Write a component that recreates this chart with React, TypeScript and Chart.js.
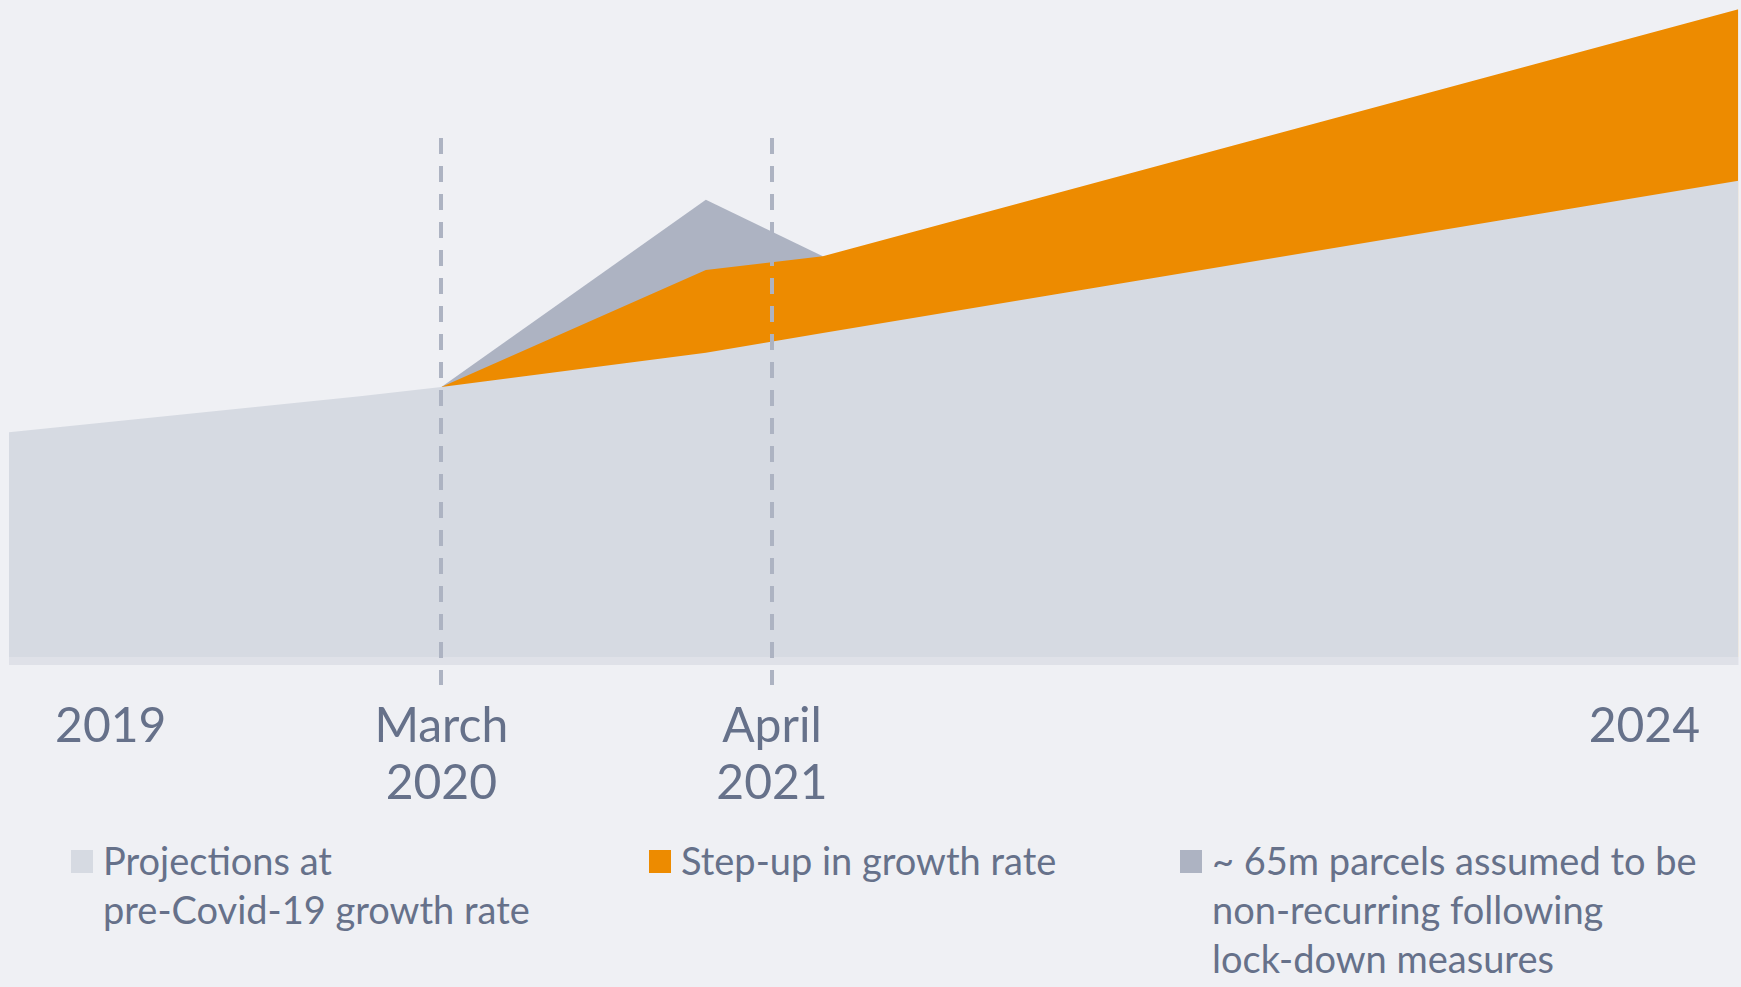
import React, { useEffect, useRef } from 'react';
import { Chart, registerables } from 'chart.js';

Chart.register(...registerables);

// x values: months since January 2019
const X_MIN = -3;
const X_MAX = 65;
const MONTHS = [-3, 10.8, 14, 24.4, 29, 65];
// y values: index of parcel volume (0 = baseline)
const PROJECTION = [34.2, 39.7, 41.1, 46.3, 49.3, 72.5];
const STEP_UP = [null, null, 41.1, 58.9, 61.0, 98.6];
const NON_RECURRING = [null, null, 41.1, 69.6, 61.0, null];

const TICK_VALUES = [1, 14, 27, 61.3];
const TICK_LABELS: (string | string[])[] = ['2019', ['March', '2020'], ['April', '2021'], '2024'];
const MARKERS = [14, 27];

const SERIES_NAMES = ['Projections at pre-Covid-19 growth rate', 'Step-up in growth rate', '~ 65m parcels assumed to be non-recurring following lock-down measures'];
const LEGEND_LINES = [
  ['Projections at', 'pre-Covid-19 growth rate'],
  ['Step-up in growth rate'],
  ['~ 65m parcels assumed to be', 'non-recurring following', 'lock-down measures'],
];

const BG = '#eff0f4';
const C_PROJ = '#d6dae2';
const C_STEP = '#ed8b00';
const C_NONREC = '#adb3c2';
const C_BAND = '#dfe1e8';
const C_TEXT = '#66718a';
const COLORS = [C_PROJ, C_STEP, C_NONREC];
const LEGEND_X = [71, 649, 1180];
const FONT = 'Lato, "Open Sans", sans-serif';

const CANVAS_W = 1741;
const CANVAS_H = 820;
const PLOT_BOTTOM = 657;

const bandPlugin = {
  id: 'band',
  beforeDatasetsDraw(chart: any) {
    const { ctx, chartArea } = chart;
    ctx.save();
    ctx.fillStyle = C_BAND;
    ctx.fillRect(chartArea.left, chartArea.bottom, chartArea.right - chartArea.left, 8);
    ctx.restore();
  },
};

const markerPlugin = {
  id: 'markers',
  afterDatasetsDraw(chart: any) {
    const { ctx, chartArea, scales } = chart;
    const x = scales.x;
    ctx.save();
    ctx.strokeStyle = C_NONREC;
    ctx.lineWidth = 4;
    ctx.setLineDash([16, 12]);
    MARKERS.forEach((v) => {
      const px = Math.round(x.getPixelForValue(v));
      ctx.beginPath();
      ctx.moveTo(px, chartArea.top + 138);
      ctx.lineTo(px, chartArea.bottom + 28);
      ctx.stroke();
    });
    ctx.restore();
  },
};

function toPoints(vals: (number | null)[]) {
  return MONTHS.map((m, i) => ({ x: m, y: vals[i] }));
}

export default function App() {
  const ref = useRef<HTMLCanvasElement>(null);

  useEffect(() => {
    if (!ref.current) return;
    const series = [PROJECTION, STEP_UP, NON_RECURRING];
    const chart = new Chart(ref.current, {
      type: 'line',
      data: {
        datasets: series.map((vals, i) => ({
          label: SERIES_NAMES[i],
          data: toPoints(vals) as any,
          backgroundColor: COLORS[i],
          borderColor: 'rgba(0,0,0,0)',
          borderWidth: 0,
          pointRadius: 0,
          pointHoverRadius: 0,
          tension: 0,
          fill: 'origin',
          spanGaps: false,
        })),
      },
      options: {
        animation: false,
        responsive: false,
        devicePixelRatio: 1,
        events: [],
        layout: { padding: { left: 9, right: 0, top: 0, bottom: 0 } },
        plugins: {
          legend: { display: false },
          tooltip: { enabled: false },
        },
        scales: {
          x: {
            type: 'linear',
            min: X_MIN,
            max: X_MAX,
            grid: { display: false, drawTicks: false },
            border: { display: false },
            afterBuildTicks: (s: any) => {
              s.ticks = TICK_VALUES.map((v) => ({ value: v }));
            },
            afterFit: (s: any) => {
              s.height = CANVAS_H - PLOT_BOTTOM;
            },
            ticks: {
              autoSkip: false,
              maxRotation: 0,
              minRotation: 0,
              padding: 41,
              color: C_TEXT,
              font: { family: FONT, size: 48, lineHeight: 57 / 48 },
              callback: (_v: any, i: number) => TICK_LABELS[i],
            },
          },
          y: {
            display: false,
            min: 0,
            max: 100,
          },
        },
      },
      plugins: [bandPlugin, markerPlugin],
    });
    return () => chart.destroy();
  }, []);

  return (
    <div style={{ position: 'fixed', left: 0, top: 0, width: CANVAS_W, height: 987, background: BG, overflow: 'hidden' }}>
      <canvas ref={ref} width={CANVAS_W} height={CANVAS_H} style={{ display: 'block', width: CANVAS_W, height: CANVAS_H }} />
      {LEGEND_LINES.map((lines, i) => (
        <div key={i} style={{ position: 'absolute', left: LEGEND_X[i], top: 836 }}>
          <div style={{ position: 'absolute', left: 0, top: 14, width: 22, height: 23, background: COLORS[i] }} />
          <div style={{ position: 'absolute', left: 32, top: 0, whiteSpace: 'nowrap', fontFamily: FONT, fontSize: 38, lineHeight: '49px', color: C_TEXT }}>
            {lines.map((l, j) => (
              <div key={j}>{l}</div>
            ))}
          </div>
        </div>
      ))}
    </div>
  );
}
